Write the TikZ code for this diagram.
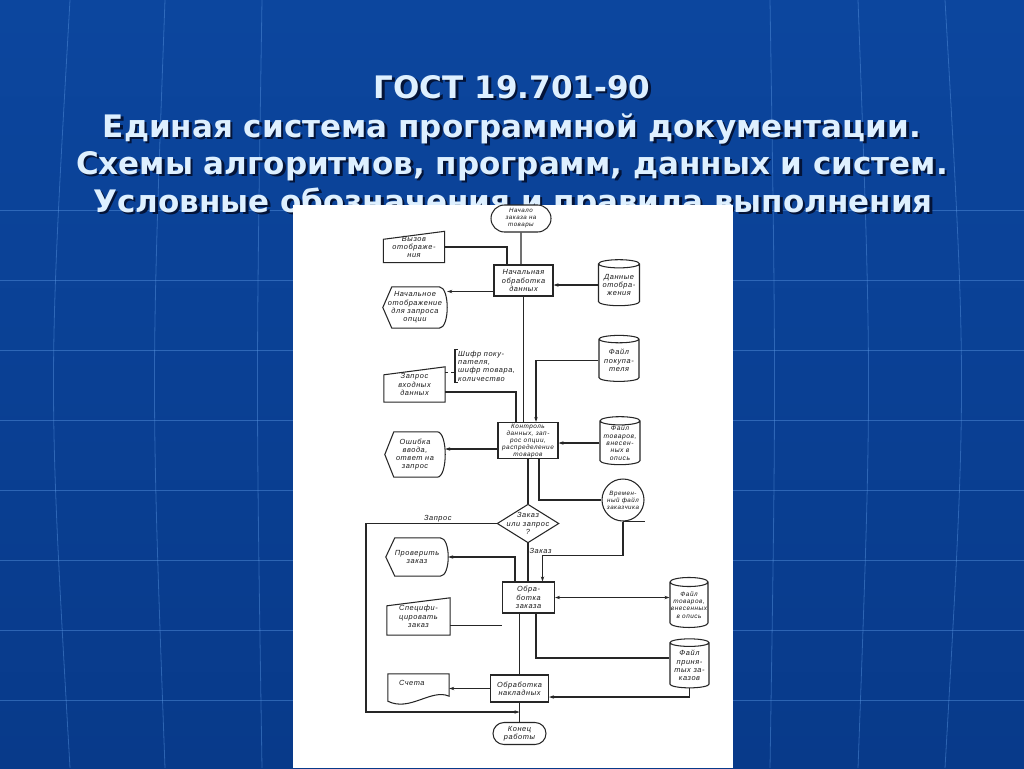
\documentclass[tikz,border=0pt]{standalone}
\usepackage{fontspec}
\setmainfont{Liberation Sans}
\newfontfamily\titlefont{DejaVu Sans}
\newfontfamily\hand[LetterSpace=8]{Liberation Sans}
\usetikzlibrary{positioning,calc,arrows.meta}
\usetikzlibrary{shapes.geometric,shapes.misc}
\definecolor{bgtop}{RGB}{12,70,158}
\definecolor{bgmid}{RGB}{16,98,192}
\definecolor{bgbot}{RGB}{8,58,138}
\definecolor{gridcol}{RGB}{90,150,225}
\definecolor{titlecol}{RGB}{222,240,255}
\definecolor{shadowcol}{RGB}{4,20,56}
\tikzset{%
  bgline/.style={draw=gridcol, line width=0.8pt, opacity=0.45},
  ttl/.style={font=\titlefont\bfseries\fontsize{31}{37}\selectfont, text=titlecol, anchor=base, inner sep=0pt},
  ttlshadow/.style={ttl, text=shadowcol},
  % ---
  % chart
  % ---
  chart/.style={draw=black!85, line width=1.05pt},
  txt/.style={font=\hand\itshape\fontsize{7.4}{8.3}\selectfont, align=center, text=black!90, inner sep=1pt},
  proc/.style={rectangle, chart, txt, fill=white},
  term/.style={rounded rectangle, chart, txt, fill=white, inner ysep=0pt},
  store/.style={cylinder, shape border rotate=90, aspect=0.25, chart, txt, fill=white, inner sep=0pt},
  dec/.style={diamond, chart, txt, fill=white, aspect=1.6, inner sep=-3pt, minimum width=60, minimum height=37},
  manin/.style={rectangle, txt, minimum width=61, minimum height=31},% outline drawn after
  disp/.style={rectangle, txt, minimum width=64, minimum height=41},% outline drawn after
  docu/.style={rectangle, txt, minimum width=61, minimum height=30},% outline drawn after
  arr/.style={chart, -{Stealth[length=5pt,width=3.4pt]}},
  arrboth/.style={chart, {Stealth[length=5pt,width=3.4pt]}-{Stealth[length=5pt,width=3.4pt]}},
}
% outlines of the symbols that have no ready shape
\newcommand\maninout[1]{\draw[chart] let \p1=(#1.north west), \p2=(#1.south east) in
  (\x1,\y2) -- (\x1,\y1-8pt) -- (\x2,\y1) -- (\x2,\y2) -- cycle;}
\newcommand\dispout[1]{\draw[chart] let \p1=(#1.north west), \p2=(#1.south east) in
  (\x1+9pt,\y1) -- (\x2-8pt,\y1) .. controls (\x2+2.7pt,\y1) and (\x2+2.7pt,\y2) .. (\x2-8pt,\y2)
  -- (\x1+9pt,\y2) -- (\x1,{(\y1+\y2)/2}) -- cycle;}
\newcommand\docout[1]{\draw[chart] let \p1=(#1.north west), \p2=(#1.south east) in
  (\x1,\y2+3pt) -- (\x1,\y1) -- (\x2,\y1) -- (\x2,\y2+8pt)
  .. controls (\x2-18pt,\y2+16pt) and (\x1+22pt,\y2-8pt) .. (\x1,\y2+3pt) -- cycle;}
\begin{document}
\begin{tikzpicture}[x=1pt,y=-1pt]
  % slide
  \shade[top color=bgtop, middle color=bgmid, bottom color=bgbot] (0,0) rectangle (1024,768);
  \useasboundingbox (0,0) rectangle (1024,768);
  \foreach \gy in {210,280,...,700}
    \draw[bgline] (0,\gy) -- (1024,\gy);
  \foreach \gx/\gb in {70/-22,165/-14,262/-6,770/6,858/14,945/22}
    \draw[bgline] (\gx,0) .. controls (\gx+\gb,384) .. (\gx,768);

  \node[ttlshadow] (t1s) at (514.5,100.5) {ГОСТ 19.701-90};
  \node[ttl] (t1) at (512,98) {ГОСТ 19.701-90};
  \node[ttlshadow] (t2s) at (514.5,139.5) {Единая система программной документации.};
  \node[ttl] (t2) at (512,137) {Единая система программной документации.};
  \node[ttlshadow] (t3s) at (514.5,176.5) {Схемы алгоритмов, программ, данных и систем.};
  \node[ttl] (t3) at (512,174) {Схемы алгоритмов, программ, данных и систем.};
  \node[ttlshadow] (t4s) at (515.5,214.5) {Условные обозначения и правила выполнения};
  \node[ttl] (t4) at (513,212) {Условные обозначения и правила выполнения};

  \fill[white] (293,205) rectangle (733,768);

  % ---
  % flowchart
  % ---
  \node[term, minimum width=62, minimum height=27,
        font=\hand\itshape\fontsize{6.2}{7}\selectfont] (start) at (521,218.5) {Начало\\заказа на\\товары};
  \node[proc, minimum width=59, minimum height=31] (initp) at (523.5,280.5) {Начальная\\обработка\\данных};
  \node[manin] (callv) at (414,247) {Вызов\\отображе-\\ния};
  \node[disp] (initd) at (415,307.5) {Начальное\\отображение\\для запроса\\опции};
  \node[store, minimum width=41, minimum height=46] (dispdata) at (619,285) {Данные\\отобра-\\жения};

  \node[manin, minimum height=35] (reqin) at (414.5,384.5) {Запрос\\входных\\данных};
  \node[txt, anchor=west, align=left, inner xsep=3pt] (note) at (455,366) {Шифр поку-\\пателя,\\шифр товара,\\количество};
  \node[store, minimum width=40, minimum height=46] (custf) at (619,360.5) {Файл\\покупа-\\теля};

  \node[proc, minimum width=60, minimum height=36, inner sep=0.5pt,
        font=\hand\itshape\fontsize{6.4}{7}\selectfont] (check) at (528,440.5)
        {Контроль\\данных, зап-\\рос опции,\\распределение\\товаров};
  \node[store, minimum width=40, minimum height=48,
        font=\hand\itshape\fontsize{6.7}{7.4}\selectfont] (goodsf) at (620,443) {Файл\\товаров,\\внесен-\\ных в\\опись};
  \node[disp, minimum width=60, minimum height=45] (errd) at (415,454.5) {Ошибка\\ввода,\\ответ на\\запрос};
  \node[circle, chart, txt, fill=white, minimum size=42, inner sep=0pt,
        font=\hand\itshape\fontsize{6.2}{7}\selectfont] (tmpf) at (623,500) {Времен-\\ный файл\\заказчика};

  \node[dec] (dec) at (528,523.5) {Заказ\\или запрос\\?};
  \node[disp, minimum width=62, minimum height=38] (chkd) at (417,557) {Проверить\\заказ};
  \node[proc, minimum width=52, minimum height=31] (proco) at (528.5,597.5) {Обра-\\ботка\\заказа};
  \node[manin, minimum width=63, minimum height=37] (spec) at (418.5,616.5) {Специфи-\\цировать\\заказ};
  \node[store, minimum width=38, minimum height=50,
        font=\hand\itshape\fontsize{6.4}{7.3}\selectfont] (goodsf2) at (689,605) {Файл\\товаров,\\внесенных\\в опись};
  \node[store, minimum width=39, minimum height=49] (accf) at (689.5,665.5) {Файл\\приня-\\тых за-\\казов};

  \node[proc, minimum width=58, minimum height=27] (inv) at (519.5,688.5) {Обработка\\накладных};
  \node[docu, label={[txt, anchor=north west, xshift=10pt, yshift=-5pt]north west:Счета}] (bills) at (418.5,689) {};
  \node[term, minimum width=55, minimum height=22] (endt) at (519.5,733.5) {Конец\\работы};
  \coordinate (merge) at (519.5,712);

  \maninout{callv}
  \maninout{reqin}
  \maninout{spec}
  \dispout{initd}
  \dispout{errd}
  \dispout{chkd}
  \docout{bills}

  % connectors
  \draw[chart] (start) -- (start |- initp.north);
  \draw[chart] (callv.east) -| ([xshift=-16.5pt]initp.north);
  \draw[arr] ([yshift=-11pt]initp.west) -- ([yshift=-11pt]initp.west -| initd.east);
  \draw[arr] (dispdata.west) -- (dispdata.west -| initp.east);
  \draw[chart] (initp.south) -- (initp.south |- check.north);

  \draw[chart] ([yshift=-7.5pt]reqin.east) -| ([xshift=-12pt]check.north);
  \draw[chart, dashed] ([yshift=-6pt]reqin.north east) -- ([yshift=-6pt]reqin.north east -| note.west);
  \draw[chart] ([xshift=3pt]note.north west) -- (note.north west) -- (note.south west) -- ([xshift=3pt]note.south west);
  \draw[arr] (custf.west) -| ([xshift=8pt]check.north);
  \draw[arr] (goodsf.west) -- (goodsf.west -| check.east);
  \draw[arr] ([yshift=-8.5pt]check.west) -- ([yshift=-8.5pt]check.west -| errd.east);

  \draw[chart] (check.south) -- (dec.north);
  \draw[chart] ([xshift=11pt]check.south) |- (tmpf.west);
  \draw[chart] (tmpf.south) -- ++(22,0);
  \draw[arr] (tmpf.south) -- ++(0,34) -| ([xshift=14pt]proco.north);

  \draw[arr] (dec.west) -- node[txt, above, pos=0.45] (lreq) {Запрос} (366,523.5) |- (merge);
  \draw[chart] (dec.south) -- node[txt, right, pos=0.2] (lord) {Заказ} (dec.south |- proco.north);

  \draw[arr] ([xshift=-13.5pt]proco.north) |- (chkd.east);
  \draw[chart] ([yshift=-9pt]spec.east) -- ([yshift=-9pt]spec.east -| proco.west);
  \draw[arrboth] (proco.east) -- (proco.east -| goodsf2.west);
  \draw[chart] ([xshift=7.5pt]proco.south) |- ([yshift=7.5pt]accf.west);
  \draw[chart] ([xshift=-9pt]proco.south) -- ([xshift=-9pt]proco.south |- inv.north);

  \draw[arr] (accf.south) |- ([yshift=-8.5pt]inv.east);
  \draw[arr] (inv.west) -- (inv.west -| bills.east);
  \draw[chart] (inv.south) -- (endt.north);
\end{tikzpicture}
\end{document}
